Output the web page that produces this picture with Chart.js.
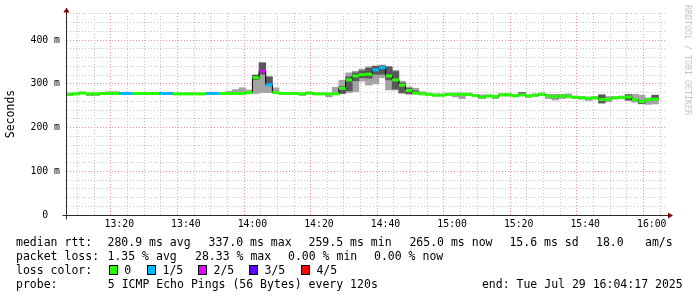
<!DOCTYPE html>
<html>
<head>
<meta charset="utf-8">
<title>SmokePing latency</title>
<script src="https://cdn.jsdelivr.net/npm/chart.js@4.4.1/dist/chart.umd.min.js"></script>
<style>
    body { margin: 0; background: #fff; }
    #wrap { position: relative; width: 697px; height: 297px; overflow: hidden; }
    #chart { position: absolute; left: 0; top: 0; }
    .t { position: absolute; font: 11.5px "DejaVu Sans Mono", monospace; color: #000; white-space: pre; line-height: 14px; }
    .box { position: absolute; width: 7px; height: 8px; border: 1px solid #000; }
    #mark { position: absolute; left: 683px; top: 5px; writing-mode: vertical-rl; font: 8.3px "DejaVu Sans Mono", monospace; color: #c4c4c4; white-space: pre; line-height: 9px; }
</style>
</head>
<body>
<div id="wrap">
    <canvas id="chart" width="697" height="297"></canvas>
    <div id="mark">RRDTOOL / TOBI OETIKER</div>
</div>
<script>
// One probe round every 2 minutes, first step centred on 13:05
const firstStep = '13:05';
const stepMinutes = 2;
const viewStart = '13:04:17';
const viewEnd = '16:04:17';

// median rtt of each round (ms)
const medianRtt = [
    276, 277, 279, 277, 277, 278, 278, 278, 278, 278,
    278, 278, 278, 278, 278, 278, 277, 277, 277, 277,
    277, 278, 278, 278, 278, 278, 278, 280, 314, 329,
    298, 280, 278, 278, 278, 277, 279, 277, 277, 277,
    277, 290, 309, 318, 321, 322, 332, 337, 318, 309,
    297, 285, 279, 277, 276, 274, 274, 276, 276, 276,
    276, 273, 269, 272, 271, 275, 275, 273, 275, 272,
    274, 276, 272, 271, 272, 271, 269, 268, 267, 268,
    264, 265, 268, 269, 270, 264, 259.5, 264, 265
];

// lost pings out of 5 in each round
const lostPings = [
    0, 0, 0, 0, 0, 0, 0, 0, 1, 1,
    0, 0, 0, 0, 1, 1, 0, 0, 0, 0,
    0, 1, 1, 0, 0, 0, 0, 0, 0, 2,
    1, 0, 0, 0, 0, 0, 0, 0, 0, 0,
    0, 0, 0, 0, 0, 0, 1, 1, 0, 0,
    0, 0, 0, 0, 0, 0, 0, 0, 0, 0,
    0, 0, 0, 0, 0, 0, 0, 0, 0, 0,
    0, 0, 0, 0, 0, 0, 0, 0, 0, 0,
    0, 0, 0, 0, 0, 0, 0, 0, 0
];

// outer smoke: fastest and slowest ping of each round (ms)
const smokeMin = [
    273, 275, 277, 273, 273, 276, 276, 276, 277, 277,
    276, 276, 276, 276, 277, 277, 275, 275, 275, 275,
    275, 277, 277, 276, 276, 277, 276, 278, 278, 280,
    280, 279, 276, 276, 276, 273, 277, 276, 276, 270,
    277, 278, 280, 282, 306, 297, 300, 314, 286, 286,
    278, 276, 277, 276, 274, 272, 272, 274, 270, 266,
    273, 271, 266, 270, 266, 272, 272, 270, 272, 269,
    271, 273, 266, 263, 266, 268, 266, 265, 262, 265,
    255, 259, 265, 266, 262, 258, 254, 253, 254
];
const smokeMax = [
    279, 279, 281, 279, 279, 280, 282, 282, 280, 280,
    280, 280, 280, 280, 280, 280, 279, 279, 279, 279,
    279, 280, 280, 280, 283, 287, 291, 286, 320, 348,
    316, 291, 280, 280, 280, 279, 281, 279, 279, 278,
    292, 308, 325, 329, 334, 339, 341, 343, 339, 331,
    306, 293, 290, 282, 279, 277, 277, 279, 279, 279,
    279, 276, 275, 275, 274, 277, 278, 276, 280, 275,
    277, 279, 276, 276, 276, 277, 272, 271, 270, 271,
    276, 271, 271, 272, 276, 276, 274, 268, 274
];

// inner smoke: 2nd and 4th ping (null where it hides under the median)
const innerMin = [
    null, null, null, null, null, null, null, null, null, null,
    null, null, null, null, null, null, null, null, null, null,
    null, null, null, null, null, null, null, null, 310, 322,
    298, null, null, null, null, null, null, null, null, null,
    null, 278, 284, 307, 314, 313, 322, 322, 309, 288,
    280, 278, 277, null, null, null, null, null, null, null,
    null, null, null, null, null, null, null, null, 276, null,
    null, null, null, 268, null, null, null, null, null, null,
    257, null, null, null, 263, null, 255, null, 264
];
const innerMax = [
    null, null, null, null, null, null, null, null, null, null,
    null, null, null, null, null, null, null, null, null, null,
    null, null, null, null, null, null, null, null, 320, 348,
    316, null, null, null, null, null, null, null, null, null,
    null, 294, 316, 325, 330, 336, 340, 341, 339, 328,
    302, 290, 284, null, null, null, null, null, null, null,
    null, null, null, null, null, null, null, null, 280, null,
    null, null, null, 274, null, null, null, null, null, null,
    274, null, null, null, 275, null, 262, null, 274
];

// loss colour per number of lost pings
const lossLabels = ['0', '1/5', '2/5', '3/5', '4/5'];
const lossColors = ['#26ff00', '#00b8ff', '#dd00ff', '#5e00ff', '#ff0000'];

// axis labels
const timeLabels = ['13:20', '13:40', '14:00', '14:20', '14:40', '15:00', '15:20', '15:40', '16:00'];
const yLabels = ['0', '100 m', '200 m', '300 m', '400 m'];

function toMinutes(hms) {
    const p = hms.split(':').map(Number);
    return p[0] * 60 + p[1] + (p[2] || 0) / 60;
}

const stepStart = toMinutes(firstStep);
const xMin = toMinutes(viewStart);
const xMax = toMinutes(viewEnd);
const stepX = medianRtt.map((v, i) => stepStart + i * stepMinutes);

const medianPoints = medianRtt.map((v, i) => ({ x: stepX[i], y: v }));
const outerBars = smokeMin.map((v, i) => ({ x: stepX[i], y: [v, smokeMax[i]] }));
const innerBars = innerMin.map((v, i) => ({ x: stepX[i], y: v === null ? null : [v, innerMax[i]] }));

// grid every 5 minutes / 20 ms, labelled lines every 20 minutes / 100 ms
const xTicks = [];
for (let m = Math.ceil(xMin / 5) * 5; m <= xMax; m += 5) xTicks.push(m);
const yTicks = [];
for (let v = 0; v <= 460; v += 20) yTicks.push(v);

const tickFont = { family: 'DejaVu Sans Mono', size: 9.8 };
const majorGrid = '#e59a9a';
const minorGrid = '#c4c4c4';

function xLabel(v) {
    const hh = Math.floor(v / 60), mm = v % 60;
    const text = hh + ':' + String(mm).padStart(2, '0');
    return timeLabels.includes(text) ? text : '';
}

function yLabel(v) {
    const l = yLabels[v / 100];
    if (v % 100 !== 0 || l === undefined) return '';
    return v === 0 ? l + '  ' : l;
}

// axis lines with the little rrdtool arrows
const axisArrows = {
    id: 'axisArrows',
    afterDraw(chart) {
        const { ctx, chartArea: a } = chart;
        const y0 = Math.round(a.bottom) + 0.5;
        const x0 = Math.round(a.left) - 0.5;
        ctx.save();
        ctx.strokeStyle = '#2a2a2a';
        ctx.lineWidth = 1;
        ctx.beginPath();
        ctx.moveTo(x0 - 4, y0);
        ctx.lineTo(a.right + 2, y0);
        ctx.moveTo(x0, y0 + 4);
        ctx.lineTo(x0, a.top - 1);
        ctx.stroke();
        ctx.fillStyle = '#7f0000';
        ctx.beginPath();
        ctx.moveTo(a.right + 2, y0 - 3);
        ctx.lineTo(a.right + 7, y0);
        ctx.lineTo(a.right + 2, y0 + 3);
        ctx.fill();
        ctx.beginPath();
        ctx.moveTo(x0 - 3, a.top - 0.5);
        ctx.lineTo(x0, a.top - 5.5);
        ctx.lineTo(x0 + 3, a.top - 0.5);
        ctx.fill();
        ctx.restore();
    }
};

function halfStep(ctx) {
    const x = ctx.chart.scales.x;
    return (x.getPixelForValue(stepMinutes) - x.getPixelForValue(0)) / 2;
}

new Chart(document.getElementById('chart'), {
    type: 'bar',
    data: {
        datasets: [
            {
                type: 'line',
                label: 'median rtt',
                data: medianPoints,
                showLine: false,
                pointStyle: 'line',
                pointRadius: halfStep,
                pointHoverRadius: halfStep,
                pointBorderWidth: 3,
                pointBorderColor: ctx => lossColors[lostPings[ctx.dataIndex]],
                order: 1
            },
            {
                type: 'line',
                label: 'median edge',
                data: medianPoints,
                stepped: 'middle',
                borderColor: '#000',
                borderWidth: 1,
                pointRadius: 0,
                order: 2
            },
            {
                label: 'inner smoke',
                data: innerBars,
                backgroundColor: '#585858',
                grouped: false,
                barPercentage: 1,
                categoryPercentage: 1,
                order: 3
            },
            {
                label: 'outer smoke',
                data: outerBars,
                backgroundColor: '#a4a4a4',
                grouped: false,
                barPercentage: 1,
                categoryPercentage: 1,
                order: 4
            }
        ]
    },
    options: {
        responsive: false,
        animation: false,
        layout: { padding: { top: 13, right: 31, bottom: 0, left: 0 } },
        plugins: { legend: { display: false }, tooltip: { enabled: false } },
        scales: {
            x: {
                type: 'linear',
                min: xMin,
                max: xMax,
                offset: false,
                afterBuildTicks: s => { s.ticks = xTicks.map(v => ({ value: v })); },
                afterFit: s => { s.height = 82; },
                ticks: { autoSkip: false, maxRotation: 0, padding: 4, color: '#000', font: tickFont, callback: xLabel },
                grid: { drawTicks: false, color: c => (c.tick && c.tick.value % 20 === 0 ? majorGrid : minorGrid) },
                border: { display: false, dash: [1, 2] }
            },
            y: {
                min: 0,
                max: 462,
                afterBuildTicks: s => { s.ticks = yTicks.map(v => ({ value: v })); },
                afterFit: s => { s.width = 67; },
                ticks: { autoSkip: false, padding: 7, color: '#000', font: tickFont, callback: yLabel },
                grid: { drawTicks: false, color: c => (c.tick && c.tick.value % 100 === 0 ? majorGrid : minorGrid) },
                border: { display: false, dash: [1, 2] },
                title: {
                    display: true,
                    text: 'Seconds',
                    color: '#000',
                    font: { family: 'DejaVu Sans Mono', size: 11.5 },
                    padding: { top: 4, bottom: 0 }
                }
            }
        }
    },
    plugins: [axisArrows]
});

// text legend under the graph
const wrap = document.getElementById('wrap');
function put(text, x, y) {
    const d = document.createElement('div');
    d.className = 't';
    d.style.left = x + 'px';
    d.style.top = y + 'px';
    d.textContent = text;
    wrap.appendChild(d);
}

put('median rtt:', 16, 235);
put('280.9 ms avg', 107.5, 235);
put('337.0 ms max', 208.5, 235);
put('259.5 ms min', 308.5, 235);
put('265.0 ms now', 409.4, 235);
put('15.6 ms sd', 509.4, 235);
put('18.0', 596, 235);
put('am/s', 645, 235);

put('packet loss:', 16, 249);
put('1.35 % avg', 107.5, 249);
put('28.33 % max', 195, 249);
put('0.00 % min', 288, 249);
put('0.00 % now', 374, 249);

put('loss color:', 16, 263);
const boxX = [108.5, 146.8, 197.8, 248.8, 300.7];
lossLabels.forEach((l, i) => {
    const b = document.createElement('div');
    b.className = 'box';
    b.style.left = boxX[i] + 'px';
    b.style.top = '265px';
    b.style.background = lossColors[i];
    wrap.appendChild(b);
    put(l, boxX[i] + 15.7, 263);
});

put('probe:', 16, 277);
put('5 ICMP Echo Pings (56 Bytes) every 120s', 107.8, 277);
put('end: Tue Jul 29 16:04:17 2025', 481.9, 277);
</script>
</body>
</html>
